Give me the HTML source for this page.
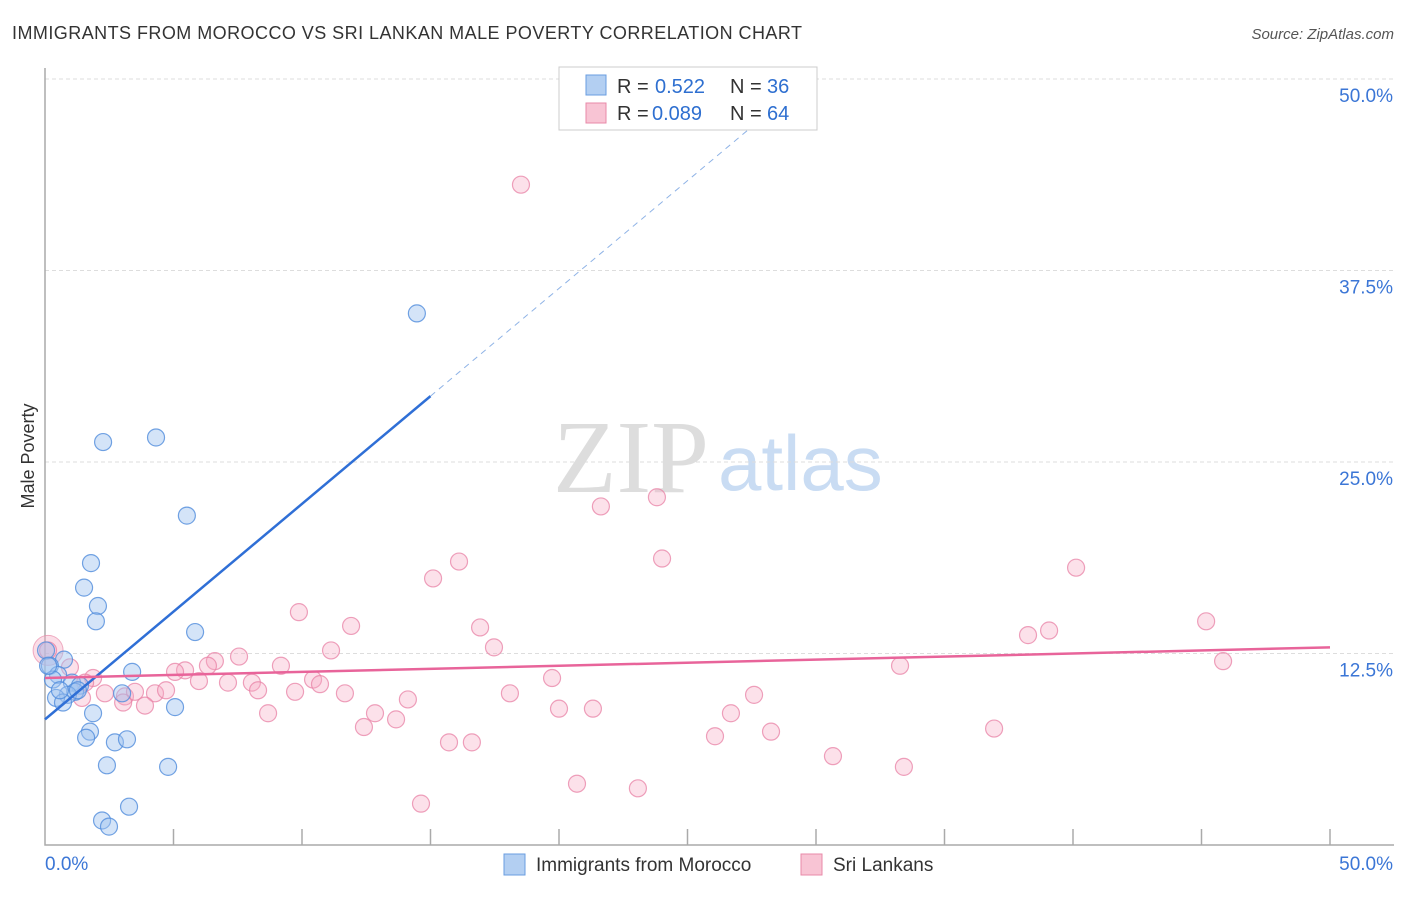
<!DOCTYPE html>
<html><head><meta charset="utf-8"><style>
body{margin:0;background:#fff;font-family:"Liberation Sans",sans-serif;}
</style></head><body>
<svg id="c" width="1406" height="892" xmlns="http://www.w3.org/2000/svg" style="font-family:'Liberation Sans',sans-serif">
<text x="12" y="39" font-size="18" fill="#333" textLength="790">IMMIGRANTS FROM MOROCCO VS SRI LANKAN MALE POVERTY CORRELATION CHART</text>
<text x="1394" y="39" font-size="15" fill="#555" font-style="italic" text-anchor="end">Source: ZipAtlas.com</text>
<text x="553" y="492" font-size="104" fill="#ddd" font-family="Liberation Serif, serif">ZIP</text>
<text x="718" y="490" font-size="78" fill="#c9dcf3">atlas</text>
<text transform="translate(34,456) rotate(-90)" font-size="18" fill="#333" text-anchor="middle">Male Poverty</text>
<g id="grid"></g><g id="axes"></g><g id="pts"></g><g id="lines"></g>
<g>
<rect x="559" y="67" width="258" height="63" fill="#fff" stroke="#ccc"/>
<rect x="586" y="75" width="20" height="20" fill="#b3cff2" stroke="#6a9de0"/>
<text x="617" y="93" font-size="20" fill="#333">R =</text>
<text x="655" y="93" font-size="20" fill="#2e6fd0">0.522</text>
<text x="730" y="93" font-size="20" fill="#333">N =</text>
<text x="767" y="93" font-size="20" fill="#2e6fd0">36</text>
<rect x="586" y="103" width="20" height="20" fill="#f8c4d4" stroke="#e88aa8"/>
<text x="617" y="120" font-size="20" fill="#333">R =</text>
<text x="652" y="120" font-size="20" fill="#2e6fd0">0.089</text>
<text x="730" y="120" font-size="20" fill="#333">N =</text>
<text x="767" y="120" font-size="20" fill="#2e6fd0">64</text>
</g>
<g>
<rect x="504" y="854" width="21" height="21" fill="#b3cff2" stroke="#6a9de0"/>
<text x="536" y="871" font-size="19" fill="#333">Immigrants from Morocco</text>
<rect x="801" y="854" width="21" height="21" fill="#f8c4d4" stroke="#e88aa8"/>
<text x="833" y="871" font-size="19" fill="#333">Sri Lankans</text>
</g>
</svg>
<script>
const yTicks=[12.5,25,37.5,50];
const yTickLabels=["12.5%","25.0%","37.5%","50.0%"];
const xTickLabels=["0.0%","50.0%"];
const blueX=[2.26,4.32,5.52,1.79,1.52,2.06,1.98,5.84,14.47,0.74,0.19,0.51,0.31,1.05,1.36,1.17,0.89,0.43,0.70,3.0,3.39,1.87,5.06,1.75,1.6,2.72,3.19,2.41,4.79,3.27,2.22,2.49,0.04,0.12,0.58,1.28];
const blueY=[26.3,26.6,21.5,18.4,16.8,15.6,14.6,13.9,34.7,12.1,11.7,11.1,10.8,10.6,10.4,10.0,9.8,9.6,9.3,9.9,11.3,8.6,9.0,7.4,7.0,6.7,6.9,5.2,5.1,2.5,1.6,1.2,12.7,11.7,10.1,10.1];
const pinkX=[18.52,21.63,23.81,24.01,16.11,15.10,40.12,9.88,16.93,11.91,17.47,11.13,45.18,39.07,38.25,45.84,33.27,7.55,6.61,6.34,5.45,5.06,9.18,8.05,5.99,7.12,8.29,9.73,10.43,10.70,11.67,14.12,18.09,19.73,27.59,12.84,12.41,13.66,20.0,21.32,26.69,8.68,15.72,16.61,26.07,28.25,36.93,30.66,33.42,20.70,23.07,14.63,1.87,0.97,1.56,2.33,3.11,3.50,4.28,4.71,3.89,3.04,1.44,0.12];
const pinkY=[43.1,22.1,22.7,18.7,18.5,17.4,18.1,15.2,14.2,14.3,12.9,12.7,14.6,14.0,13.7,12.0,11.7,12.3,12.0,11.7,11.4,11.3,11.7,10.6,10.7,10.6,10.1,10.0,10.8,10.5,9.9,9.5,9.9,10.9,9.8,8.6,7.7,8.2,8.9,8.9,8.6,8.6,6.7,6.7,7.1,7.4,7.6,5.8,5.1,4.0,3.7,2.7,10.9,11.6,10.6,9.9,9.7,10.0,9.9,10.1,9.1,9.3,9.6,12.7];
const blueTrend=[[0,8.2],[15,29.3],[27.8,47.3]];
const pinkTrend=[[0,10.9],[50,12.9]];
const X=v=>45+v*25.7, Y=v=>845-v*15.32;
const NS="http://www.w3.org/2000/svg";
function mk(p,t,a){const e=document.createElementNS(NS,t);for(const k in a)e.setAttribute(k,a[k]);document.getElementById(p).appendChild(e);return e;}
yTicks.forEach((v,i)=>{
 const g=mk('grid','line',{x1:45,x2:1394,y1:Y(v),y2:Y(v),stroke:'#ddd','stroke-dasharray':'4 3'});
 
 
 const t=mk('grid','text',{x:1393,y:Y(v)+23,'font-size':19,fill:'#3b76d6','text-anchor':'end'});t.textContent=yTickLabels[i];
 
 
});
const ax=mk('axes','path',{d:'M45 68 V845 H1394',fill:'none',stroke:'#aaa','stroke-width':1.5});


for(let i=1;i<=10;i++){const t=mk('axes','line',{x1:X(i*5),x2:X(i*5),y1:829,y2:845,stroke:'#aaa','stroke-width':1.5});
 
 }
[[0,'start'],[50,'end']].forEach((d,i)=>{const t=mk('axes','text',{x:i?1393:45,y:870,'font-size':19,fill:'#3b76d6','text-anchor':d[1]});t.textContent=xTickLabels[i];
 
 });
const big=mk('pts','circle',{cx:X(0.12),cy:Y(12.7),r:15,fill:'rgba(245,170,195,0.4)',stroke:'rgba(232,138,168,0.7)'});


pinkX.forEach((v,i)=>{const c=mk('pts','circle',{cx:X(v),cy:Y(pinkY[i]),r:8.5,fill:'rgba(245,170,195,0.35)',stroke:'rgba(232,130,165,0.75)','stroke-width':1.2});
 
 });
blueX.forEach((v,i)=>{const c=mk('pts','circle',{cx:X(v),cy:Y(blueY[i]),r:8.5,fill:'rgba(160,195,240,0.45)',stroke:'rgba(80,140,220,0.8)','stroke-width':1.2});
 
 });
const b1=mk('lines','line',{x1:X(blueTrend[0][0]),y1:Y(blueTrend[0][1]),x2:X(blueTrend[1][0]),y2:Y(blueTrend[1][1]),stroke:'#2f6fd6','stroke-width':2.5});


const b2=mk('lines','line',{x1:X(blueTrend[1][0]),y1:Y(blueTrend[1][1]),x2:X(blueTrend[2][0]),y2:Y(blueTrend[2][1]),stroke:'#8fb3e6','stroke-width':1,'stroke-dasharray':'6 5'});


const p1=mk('lines','line',{x1:X(pinkTrend[0][0]),y1:Y(pinkTrend[0][1]),x2:X(pinkTrend[1][0]),y2:Y(pinkTrend[1][1]),stroke:'#e8649a','stroke-width':2.5});


</script>
</body></html>
